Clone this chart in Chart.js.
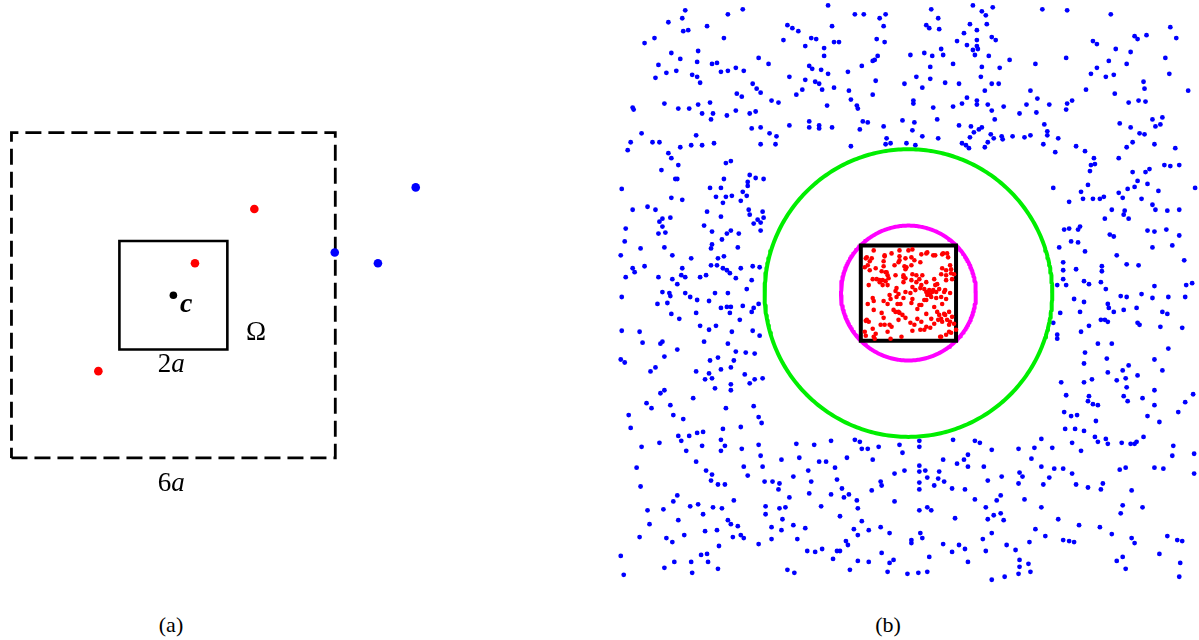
<!DOCTYPE html>
<html>
<head>
<meta charset="utf-8">
<script src="https://cdn.jsdelivr.net/npm/chart.js@4.4.1/dist/chart.umd.min.js"></script>
<style>
  html, body { margin: 0; padding: 0; background: #fff; width: 1199px; height: 640px; overflow: hidden; }
  .panel { position: absolute; top: 0; }
  #panelA { left: 0; width: 460px; height: 600px; }
  #panelB { left: 600px; width: 599px; height: 600px; }
  .caption { position: absolute; top: 613px; line-height: 24px; font-family: "Liberation Serif", "DejaVu Serif", serif;
             font-size: 22px; color: #000; transform: translateX(-50%); white-space: nowrap; }
</style>
</head>
<body>
<div class="panel" id="panelA"><canvas id="chartA" width="460" height="600"></canvas></div>
<div class="panel" id="panelB"><canvas id="chartB" width="599" height="600"></canvas></div>
<div class="caption" style="left:171px">(a)</div>
<div class="caption" style="left:888px">(b)</div>

<script>
// ---------- Panel (a): coordinates in units of a, centre c at the origin ----------
const aCentre = [[0, 0]];
const aNearSources = [[1.50, 1.59], [0.40, 0.59], [-1.39, -1.40]];   // red
const aFarSources = [[4.49, 1.99], [2.99, 0.79], [3.79, 0.59]];      // blue
const aInnerHalfSide = 1;   // box of side 2a
const aOuterHalfSide = 3;   // box of side 6a
const aLabels = [
  { runs: [['c', 'bold italic', 28]], x: 0.24, y: -0.17 },
  { runs: [['Ω', '', 27]], x: 1.53, y: -0.69 },
  { runs: [['2', '', 27], ['a', 'italic', 27]], x: -0.04, y: -1.29 },
  { runs: [['6', '', 27], ['a', 'italic', 27]], x: -0.04, y: -3.48 },
];

// ---------- Panel (b): grid coordinates, centre at the origin, box half side 48 ----------
const bHalfSide = 48;
const bInnerRadius = 68;    // circle through the box corners
const bOuterRadius = 145;   // well-separated radius

const bSources = [
  [-43,35],[-37,35],[-39,32],[-41,28],[-44,26],[-33,25],[-24,37],[-25,32],[-25,27],[-9,37],[-9,33],[-3,35],[-4,27],[-3,24],
  [-14,28],[-27,22],[-23,21],[-21,18],[-20,15],[-23,12],[-26,13],[-21,8],[-32,14],[-29,11],[-26,8],[-13,18],[-5,18],[-3,15],
  [-5,11],[-40,8],[-36,14],[-13,2],[-10,-1],[-12,-4],[-3,1],[-36,-5],[-35,-8],[-41,-11],[-25,-8],[-21,-11],[-18,-6],[-11,-11],
  [-8,-11],[-27,-20],[-15,-17],[-13,-19],[-9,-20],[-6,-22],[-10,-27],[-3,-25],[-43,-28],[-40,-29],[-36,-36],[-28,-32],[-24,-32],
  [-19,-32],[-21,-39],[-33,-41],[-43,-43],[-34,-46],[-18,-46],
  [4,44],[13,39],[19,41],[25,38],[34,39],[39,40],[40,36],[3,28],[6,33],[4,19],[8,18],[14,18],[34,25],[38,23],[43,24],[46,19],
  [33,19],[38,18],[44,14],[3,13],[11,14],[13,8],[18,11],[26,14],[29,9],[4,6],[16,4],[18,1],[21,3],[24,1],[19,-2],[23,-4],[28,1],
  [31,4],[36,1],[16,-7],[11,-12],[9,-16],[4,-6],[38,-6],[34,-11],[26,-14],[29,-19],[31,-22],[36,-21],[41,-19],[44,-24],[39,-27],
  [34,-29],[33,-26],[18,-21],[9,-26],[13,-29],[6,-32],[18,-34],[23,-26],[26,-31],[41,-32],[46,-31],[4,-38],[16,-37],[41,-39],
  [48,-37],[38,-42],[33,-44],
  [20,1],[22,-2],[25,3],[18,-7],[13,-12],[28,-5],[33,-4],[37,3],[42,0],[27,8],[8,11],[7,3],[2,0],[12,5],[38,13],[43,20],[42,28],
  [35,40],[27,38],[18,40],[12,31],[3,36],[-2,26],[-10,31],[-9,43],[0,43],[-17,40],[-24,38],[-35,43],[-42,36],[-39,23],[-29,13],
  [-22,21],[-5,16],[-12,5],[-19,-2],[-5,-5],[3,-10],[-10,-19],[-25,-25],[-35,-17],[-42,-27],[-17,-34],[2,-30],[12,-37],[22,-35],
  [30,-27],[37,-22],[42,-29],[43,-40],[32,-44],[-35,-44],[-44,-39],[-7,-44]
];

const bTargetsNW = [
  [-225,285],[-167,286],[-81,290],[-182,281],[-228,277],[-242,273],[-54,281],[-45,281],[-29,277],[-23,281],
  [-203,269],[-227,264],[-222,265],[-122,270],[-117,267],[-111,264],[-77,269],[-25,269],
  [-266,252],[-256,257],[-186,257],[-126,255],[-98,257],[-93,256],[-75,253],[-70,253],[-32,256],[-24,253],[-104,249],[-85,247],
  [-239,242],[-212,244],[-230,236],[-213,233],[-252,230],[-198,231],[-193,232],[-151,237],[-141,231],[-85,239],[-31,239],[-36,234],[-34,235],[2,240],
  [-255,217],[-244,222],[-234,224],[-218,220],[-213,218],[-210,212],[-189,223],[-182,224],[-174,227],[-166,224],[-120,218],[-100,229],[-97,226],
  [-88,225],[-81,221],[-61,223],[-47,229],[-104,215],[-94,213],[-90,211],[-33,214],[-4,211],
  [-157,211],[-153,206],[-149,202],[-173,201],[-168,198],[-113,200],[-107,205],[-87,205],[-75,207],[-60,204],[-58,195],[-36,200],
  [-246,191],[-232,186],[-221,186],[-212,190],[-200,192],[-208,181],[-197,181],[-199,175],[-183,179],[-174,184],[-160,181],[-154,183],
  [-138,194],[-131,192],[-82,189],[-52,189],[-51,186],
  [-278,187],[-277,185],[-280,152],[-283,144],[-269,161],[-258,152],[-251,152],[-120,169],[-100,173],[-100,167],[-90,169],[-90,166],
  [-77,167],[-46,173],[-41,172],[-49,165],[-25,168],[-6,174],
  [-158,166],[-149,167],[-140,161],[-133,158],[-149,150],[-134,150],[-214,159],[-219,149],[-208,149],[-196,151],[-230,147],[-242,141],
  [-239,136],[-232,129],[-249,124],[-235,115],[-233,115],[-184,131],[-179,133],[-22,156],[-23,150],[-18,151],[-58,148],[-2,151],
  [-160,119],[-154,116],[-146,115],[-162,112],[-162,108],[-167,102],[-163,98],[-186,115],[-200,106],[-189,106],[-178,98],[-184,97],
  [-194,97],[-187,91],[-169,93],[-289,105],[-239,96],[-228,94],[-263,87],[-255,84],
  [-278,84],[-251,72],[-248,75],[-240,76],[-248,67],[-252,60],[-245,61],[-285,65],[-286,52],[-270,45],[-290,38],[-246,46],[-238,38],
  [-219,35],[-203,82],[-189,77],[-206,68],[-198,62],[-183,60],[-179,63],[-171,60],[-161,84],[-160,79],[-147,82],[-152,74],[-156,70],
  [-149,71],[-146,76],[-149,63],
  [-188,54],[-198,49],[-199,45],[-172,46],[-192,35],[-186,37],[-199,28],[-193,28],[-187,25],[-183,23],[-180,20],[-174,15],[-169,25],
  [-157,27],[-150,26],[-158,13],[-163,4],
  [-278,25],[-276,21],[-285,16],[-266,27],[-252,16],[-228,25],[-238,14],[-229,18],[-225,16],[-233,9],[-210,16],[-204,18],[-248,1],
  [-241,0],[-240,-3],[-225,0],[-220,-4],[-195,0],[-182,0],[-289,-4]
];

const bTargetsNE = [
  [23,286],[65,290],[85,288],[74,284],[78,280],[135,286],[160,285],[204,281],[30,277],[18,270],[21,267],[31,266],[62,271],[69,265],
  [79,271],[56,262],[264,268],[270,257],[228,259],[231,256],[240,260],[186,254],[190,251],[49,254],[59,250],[84,258],[88,255],[69,255],
  [69,249],[70,246],[65,245],[67,240],[33,246],[35,240],[24,239],[16,242],[81,239],[209,246],[224,243],[159,237],[128,231],[102,235],
  [92,227],[45,231],[22,228],[74,228],[73,218],[202,234],[220,231],[259,237],[263,221],[190,227],[184,221],[199,218],[207,220],[237,213],[238,206],
  [8,218],[14,207],[22,216],[37,212],[51,211],[84,211],[91,211],[77,204],[123,204],[130,196],[179,205],[208,201],[282,204],[222,192],[232,194],[239,193],
  [5,194],[5,191],[25,187],[45,188],[54,191],[59,197],[69,194],[69,190],[80,190],[84,184],[96,188],[119,190],[112,181],[129,182],[142,190],
  [160,191],[165,194],[159,185],
  [6,172],[29,175],[87,175],[4,164],[14,158],[7,149],[30,156],[51,169],[63,168],[62,157],[66,162],[71,165],[74,167],[54,151],[58,149],
  [61,146],[77,147],[80,152],[83,160],[86,156],[94,158],[95,155],[105,158],[117,157],[123,159],[137,170],[140,163],[140,159],[151,156],
  [136,150],[148,142],[169,148],[178,143],[187,136],[188,130],[184,129],[183,123],
  [213,171],[224,167],[233,161],[238,160],[246,175],[249,168],[254,170],[256,177],[248,150],[220,147],[226,152],[212,136],[258,129],
  [264,128],[273,129],[269,146],
  [289,106],[146,106],[162,92],[174,102],[181,109],[176,95],[186,95],[193,95],[197,97],[205,84],[198,75],[212,101],[216,96],[218,83],
  [217,79],[222,75],[221,105],[228,107],[231,113],[239,122],[241,110],[243,125],[226,122],[235,95],[246,89],[249,84],[252,103],[261,83],[273,84],
  [157,64],[162,65],[171,64],[173,67],[164,52],[171,51],[178,42],[152,46],[203,59],[207,57],[210,38],[241,63],[248,62],[260,64],
  [273,58],[266,48],[246,46],
  [156,31],[156,23],[169,24],[195,27],[195,22],[194,11],[220,29],[232,28],[177,12],[182,9],[156,14],[150,8],[159,8],[199,4],[214,-3],
  [220,-4],[235,-1],[248,7],[246,-5],[262,-4],[278,33],[280,8],[286,10],[279,-4],[167,-6]
];

const bTargetsSW = [
  [-213,-7],[-201,-8],[-253,-11],[-243,-10],[-239,-21],[-231,-26],[-214,-20],[-189,-15],[-183,-14],[-179,-14],[-180,-20],[-167,-13],
  [-156,-15],[-158,-19],[-151,-11],[-170,-27],
  [-289,-38],[-271,-39],[-268,-50],[-250,-51],[-248,-49],[-246,-64],[-233,-57],[-210,-33],[-201,-37],[-194,-33],[-206,-49],[-182,-51],
  [-178,-39],[-174,-59],[-164,-60],[-155,-61],[-157,-38],[-150,-43],
  [-290,-67],[-286,-70],[-260,-79],[-255,-75],[-214,-79],[-200,-68],[-192,-65],[-201,-81],[-205,-87],[-198,-86],[-189,-77],[-179,-75],
  [-176,-68],[-195,-96],[-179,-92],[-179,-98],[-165,-82],[-160,-91],[-155,-87],[-147,-86],
  [-264,-111],[-259,-116],[-250,-101],[-246,-98],[-240,-113],[-237,-123],[-227,-127],[-217,-106],[-184,-116],[-156,-114],[-151,-125],[-148,-131],
  [-282,-123],[-280,-136],[-269,-155],[-274,-176],[-270,-195],[-251,-151],[-232,-144],[-229,-149],[-221,-144],[-213,-141],[-207,-140],
  [-224,-159],[-214,-170],[-208,-154],[-189,-148],[-185,-154],[-189,-159],[-187,-137],[-169,-135],[-168,-157],[-151,-153],[-149,-164],
  [-147,-175],[-166,-175],[-162,-184],
  [-204,-179],[-198,-183],[-199,-189],[-192,-193],[-185,-193],[-145,-190],[-137,-190],[-130,-192],[-131,-198],[-128,-168],[-116,-185],
  [-113,-152],[-110,-166],[-101,-179],[-98,-190],[-100,-202],[-95,-153],[-90,-170],[-83,-170],[-78,-149],[-74,-176],[-72,-188],[-67,-197],
  [-62,-166],[-60,-203],[-65,-206],[-54,-148],[-49,-150],[-47,-157],[-41,-157],[-36,-168],[-30,-155],[-28,-190],[-27,-194],[-37,-199],
  [-52,-209],[-51,-217],[-47,-230],[-55,-238],[-51,-244],[-69,-225],[-78,-203],[-88,-215],[-14,-182],[-4,-179],[-9,-153],[-6,-161],[-14,-210],
  [-263,-219],[-261,-233],[-271,-246],[-247,-218],[-237,-210],[-233,-204],[-232,-229],[-220,-215],[-212,-213],[-207,-223],[-197,-216],
  [-188,-217],[-176,-209],[-182,-229],[-179,-233],[-172,-235],[-169,-244],[-166,-247],[-177,-246],[-193,-239],[-205,-240],[-226,-244],
  [-244,-247],[-238,-251],[-290,-265],[-287,-284],[-246,-277],[-236,-271],[-219,-271],[-218,-282],[-209,-264],[-203,-263],[-202,-271],
  [-192,-278],[-191,-255],
  [-144,-215],[-144,-223],[-130,-217],[-124,-216],[-127,-228],[-138,-236],[-128,-239],[-116,-234],[-104,-237],[-112,-248],[-138,-248],
  [-151,-253],[-120,-206],[-102,-260],[-94,-261],[-87,-258],[-76,-268],[-72,-260],[-69,-260],[-63,-250],[-61,-254],[-40,-239],[-28,-236],
  [-19,-242],[-27,-262],[-19,-272],[-15,-269],[-21,-281],[-1,-283],[-59,-279],[-51,-270],[-40,-271],[-122,-279],[-115,-282]
];

const bTargetsSE = [
  [177,-9],[173,-19],[153,-20],[146,-30],[150,-42],[150,-46],[174,-39],[182,-33],[194,-27],[198,-27],[201,-29],[201,-11],[202,-15],
  [207,-19],[217,-17],[230,-15],[231,-30],[233,-32],[254,-34],[256,-19],[261,-21],[276,-35],[262,-56],[191,-51],[205,-51],[200,-66],
  [178,-60],[177,-71],[154,-90],[159,-103],[177,-90],[185,-87],[182,-104],[181,-109],[186,-112],[191,-113],[201,-80],[210,-88],[216,-78],
  [222,-73],[219,-86],[231,-83],[220,-95],[217,-104],[221,-109],[236,-106],[248,-67],[256,-78],[248,-98],[248,-113],[241,-124],[253,-130],
  [272,-120],[279,-110],[287,-102],
  [157,-120],[164,-124],[170,-123],[189,-129],[158,-137],[168,-137],[177,-139],[165,-151],[174,-159],[188,-145],[191,-150],[199,-147],
  [201,-152],[215,-151],[224,-152],[228,-152],[230,-150],[237,-145],[267,-154],[266,-164],[288,-162],
  [11,-149],[11,-155],[45,-148],[67,-149],[72,-151],[84,-158],[111,-157],[134,-147],[145,-156],[127,-156],[124,-167],[134,-175],[147,-177],
  [156,-177],[165,-182],[142,-186],[136,-193],[169,-193],[181,-196],[194,-198],[196,-192],[225,-199],[219,-176],[213,-178],[248,-176],
  [257,-177],[288,-182],
  [11,-174],[11,-180],[17,-179],[11,-191],[19,-186],[11,-198],[26,-194],[31,-180],[30,-187],[36,-190],[35,-168],[49,-172],[56,-168],
  [60,-175],[60,-163],[44,-197],[57,-198],[76,-175],[80,-189],[94,-185],[93,-204],[89,-209],[67,-208],[78,-216],[80,-228],[86,-224],
  [96,-229],[93,-222],[112,-181],[115,-185],[111,-192],[117,-208],[134,-216],
  [11,-219],[19,-216],[23,-219],[47,-227],[12,-242],[14,-247],[3,-249],[3,-252],[21,-266],[19,-281],[10,-282],[35,-253],[44,-261],
  [51,-254],[57,-258],[60,-271],[75,-248],[78,-260],[84,-242],[99,-254],[108,-259],[112,-269],[112,-276],[111,-283],[121,-273],[123,-281],
  [122,-251],[97,-286],[84,-289],[128,-238],[138,-245],[151,-228],[156,-249],[162,-250],[167,-251],[172,-234],[193,-236],[205,-243],
  [216,-214],[214,-222],[225,-247],[228,-252],[236,-216],[261,-245],[253,-263],[271,-249],[276,-250],[274,-272],[273,-286],[210,-270],
  [216,-266],[219,-278]
];

// ---------- helpers ----------
const toXY = pts => pts.map(([x, y]) => ({ x, y }));

function boxOutline(h) {
  return toXY([[-h, -h], [h, -h], [h, h], [-h, h], [-h, -h]]);
}

// Closed circle: start and end a little past the seam so the stroke joins cleanly.
function circleOutline(r, steps = 360) {
  const pts = [];
  for (let i = 0; i <= steps + 2; i++) {
    const t = (i / steps) * 2 * Math.PI;
    pts.push({ x: r * Math.cos(t), y: r * Math.sin(t) });
  }
  return pts;
}

// Linear axes sized so one data unit spans `unitPx` pixels on both axes,
// with the origin placed at canvas pixel (ox, oy).
function frameOptions(canvas, unitPx, ox, oy, extraPlugins) {
  const w = canvas.width, h = canvas.height;
  return {
    responsive: false,
    animation: false,
    devicePixelRatio: 1,
    events: [],
    layout: { padding: 0 },
    plugins: { legend: { display: false }, tooltip: { enabled: false }, ...(extraPlugins || {}) },
    scales: {
      x: { type: 'linear', display: false, min: -ox / unitPx, max: (w - ox) / unitPx },
      y: { type: 'linear', display: false, min: -(h - oy) / unitPx, max: oy / unitPx },
    },
  };
}

function outline(data, color, width, order, opts) {
  const o = opts || {};
  return {
    data, showLine: true, borderColor: color, borderWidth: width, borderDash: o.dash || [],
    borderCapStyle: o.cap || 'butt', borderJoinStyle: o.join || 'miter',
    pointRadius: 0, pointHoverRadius: 0, fill: false, tension: 0, clip: false, order,
  };
}

function dots(data, color, radius, order) {
  return {
    data: toXY(data), showLine: false, backgroundColor: color, borderWidth: 0,
    pointRadius: radius, pointHoverRadius: radius, clip: false, order,
  };
}

// Text annotations placed at data coordinates (mixed upright / italic runs).
const annotationPlugin = {
  id: 'annotations',
  afterDatasetsDraw(chart, args, opts) {
    const { ctx, scales } = chart;
    const family = '"Liberation Serif", "DejaVu Serif", serif';
    ctx.save();
    ctx.fillStyle = '#000';
    ctx.textBaseline = 'middle';
    ctx.textAlign = 'left';
    (opts.items || []).forEach(item => {
      const widths = item.runs.map(([t, style, size]) => {
        ctx.font = `${style} ${size}px ${family}`;
        return ctx.measureText(t).width;
      });
      const total = widths.reduce((s, v) => s + v, 0);
      let px = scales.x.getPixelForValue(item.x) - total / 2;
      const py = scales.y.getPixelForValue(item.y);
      item.runs.forEach(([t, style, size], i) => {
        ctx.font = `${style} ${size}px ${family}`;
        ctx.fillText(t, px, py);
        px += widths[i];
      });
    });
    ctx.restore();
  },
};

// ---------- panel (a) ----------
const canvasA = document.getElementById('chartA');
new Chart(canvasA, {
  type: 'scatter',
  data: {
    datasets: [
      dots(aCentre, '#000000', 3.8, 0),
      dots(aNearSources, '#ff0000', 4.3, 1),
      dots(aFarSources, '#0000ff', 4.3, 2),
      outline(boxOutline(aInnerHalfSide), '#000000', 2.6, 3, { cap: 'square' }),
      outline(boxOutline(aOuterHalfSide), '#000000', 2.8, 4, { dash: [16, 7] }),
    ],
  },
  options: frameOptions(canvasA, 55, 172.3, 295.2, { annotations: { items: aLabels } }),
  plugins: [annotationPlugin],
});

// ---------- panel (b) ----------
const canvasB = document.getElementById('chartB');
new Chart(canvasB, {
  type: 'scatter',
  data: {
    datasets: [
      dots(bSources, '#ff0000', 2.3, 0),
      outline(boxOutline(bHalfSide), '#000000', 4, 1, { cap: 'square' }),
      outline(circleOutline(bInnerRadius), '#ff00ff', 4, 2, { join: 'round' }),
      outline(circleOutline(bOuterRadius), '#00ee00', 4, 3, { join: 'round' }),
      dots([...bTargetsNW, ...bTargetsNE, ...bTargetsSW, ...bTargetsSE], '#0000ff', 2.4, 4),
    ],
  },
  options: frameOptions(canvasB, 1, 308.5, 293),
});
</script>
</body>
</html>
